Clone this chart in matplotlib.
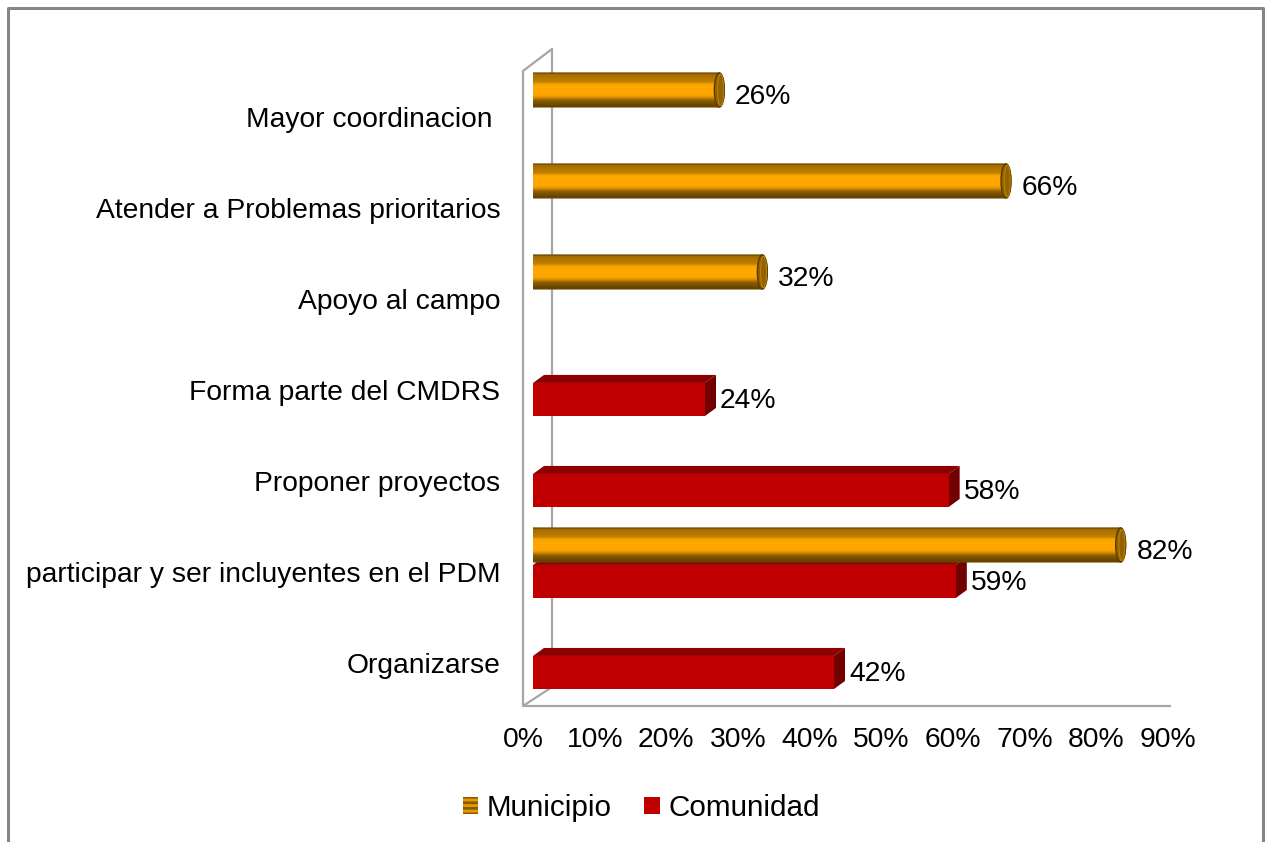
import numpy as np
import matplotlib
matplotlib.use("Agg")
import matplotlib.pyplot as plt
from matplotlib.patches import Polygon, Ellipse, Patch
from matplotlib.lines import Line2D
from matplotlib.colors import LinearSegmentedColormap
import matplotlib.transforms as mtransforms

plt.rcParams['font.family'] = ['Liberation Sans', 'DejaVu Sans']
plt.rcParams['hatch.linewidth'] = 2.0

categories = ["Mayor coordinacion ", "Atender a Problemas prioritarios", "Apoyo al campo",
              "Forma parte del CMDRS", "Proponer proyectos",
              "participar y ser incluyentes en el PDM", "Organizarse"]
municipio = [26, 66, 32, np.nan, np.nan, 82, np.nan]
comunidad = [np.nan, np.nan, np.nan, 24, 58, 59, 42]
xticks = np.arange(0, 100, 10)

W, H = 1265, 842
FS = 20.3

fig = plt.figure(figsize=(W / 100, H / 100), dpi=100)

# plot area in pixels (x of value 0 .. 90, y top .. floor)
px_left, px_right = 533, 1178
px_top, px_floor = 45, 706
cat_px0, cat_step = 117, 91
ax = fig.add_axes([px_left / W, 1 - px_floor / H,
                   (px_right - px_left) / W, (px_floor - px_top) / H])
ax.patch.set_visible(False)
for s in ax.spines.values():
    s.set_visible(False)

ylo = (px_floor - cat_px0) / cat_step
yhi = (px_top - cat_px0) / cat_step
xscale = (px_right - px_left) / 90.0  # px per %

# depth offset of the 3d boxes
dx = 11 / xscale
dy = 8 / cat_step

red_off, red_h = 0.104, 0.363
org_off, org_h = -0.297, 0.374
cap_rx = 5 / xscale

cyl_cmap = LinearSegmentedColormap.from_list("cyl", [
    (0.00, "#7a5200"), (0.07, "#a86e00"), (0.28, "#c08000"), (0.33, "#efa000"),
    (0.40, "#ffa800"), (0.66, "#ffa500"), (0.74, "#d08a00"), (0.82, "#8a5e00"),
    (1.00, "#5e4000")])
grad = np.linspace(0, 1, 64).reshape(-1, 1)

# Comunidad: red 3d boxes
for i, v in enumerate(comunidad):
    if np.isnan(v):
        continue
    yc = i + red_off
    yt, yb = yc - red_h / 2, yc + red_h / 2
    ax.add_patch(Polygon([(0, yt), (v, yt), (v + dx, yt - dy), (dx, yt - dy)],
                         closed=True, facecolor="#8e0000", edgecolor="none", zorder=2))
    ax.add_patch(Polygon([(v, yt), (v + dx, yt - dy), (v + dx, yb - dy), (v, yb)],
                         closed=True, facecolor="#730000", edgecolor="none", zorder=2))
    ax.add_patch(Polygon([(0, yt), (v, yt), (v, yb), (0, yb)],
                         closed=True, facecolor="#c00000", edgecolor="none", zorder=2))
    ax.text(v + 2.1, yc + 0.02, f"{v:.0f}%", fontsize=FS, va="center", ha="left", zorder=5)

# Municipio: orange cylinders
t = np.linspace(np.pi / 2, 3 * np.pi / 2, 40)
for i, v in enumerate(municipio):
    if np.isnan(v):
        continue
    yc = i + org_off
    hh = org_h / 2
    left = np.column_stack([cap_rx * np.cos(t), yc - hh * np.sin(t)])
    right = np.column_stack([v + cap_rx * np.cos(t[::-1] + np.pi), yc + hh * np.sin(t[::-1] + np.pi)])
    body = Polygon(np.vstack([left, right]), closed=True, facecolor="none",
                   edgecolor="#6a4800", lw=0.8, zorder=4)
    ax.add_patch(body)
    im = ax.imshow(grad, extent=[-cap_rx, v + cap_rx, yc + hh, yc - hh], origin="upper",
                   aspect="auto", cmap=cyl_cmap, zorder=3, interpolation="bilinear")
    im.set_clip_path(body)
    ax.add_patch(Ellipse((v, yc), 2 * cap_rx, org_h, facecolor="#936200",
                         edgecolor="#5a3c00", lw=1.0, zorder=4))
    ax.add_patch(Ellipse((v + 0.25 * cap_rx, yc), 1.2 * cap_rx, org_h * 0.92, facecolor="none",
                         edgecolor="#b98000", lw=0.8, zorder=4))
    ax.text(v + 2.2, yc + 0.08, f"{v:.0f}%", fontsize=FS, va="center", ha="left", zorder=5)

ax.set_xlim(0, 90)
ax.set_ylim(ylo, yhi)
ax.set_yticks(range(len(categories)))
ax.set_yticklabels(categories, fontsize=FS)
ax.set_xticks(xticks)
ax.set_xticklabels([f"{x}%" for x in xticks], fontsize=FS)
ax.tick_params(axis="y", length=0, pad=23.5)
ax.tick_params(axis="x", length=0, pad=15)
shift = mtransforms.ScaledTranslation(-10 / 100, 0, fig.dpi_scale_trans)
for lab in ax.get_xticklabels():
    lab.set_transform(lab.get_transform() + shift)


def fp(x, y):
    return x / W, 1 - y / H


def fline(pts, color, lw, z=-1):
    xs, ys = zip(*[fp(x, y) for x, y in pts])
    fig.add_artist(Line2D(xs, ys, color=color, lw=lw, transform=fig.transFigure,
                          zorder=z, solid_capstyle="butt"))


# walls and floor
wall = "#a6a6a6"
fline([(523, 706), (523, 71), (552, 49), (552, 687), (523, 706), (1171, 706)], wall, 1.6)

# chart frame
fline([(8, 842), (8, 8), (1263, 8), (1263, 842)], "#868686", 2.2, z=5)

handles = [Patch(facecolor="#e69a00", edgecolor="#8a5a00", hatch="---", lw=0),
           Patch(facecolor="#c00000", edgecolor="none")]
fig.legend(handles, ["Municipio", "Comunidad"], loc="center", bbox_to_anchor=(0.507, 0.040),
           ncol=2, frameon=False, fontsize=21.3, handlelength=0.52, handleheight=0.52,
           handletextpad=0.3, columnspacing=1.1)

fig.savefig("out.png", dpi=100)
